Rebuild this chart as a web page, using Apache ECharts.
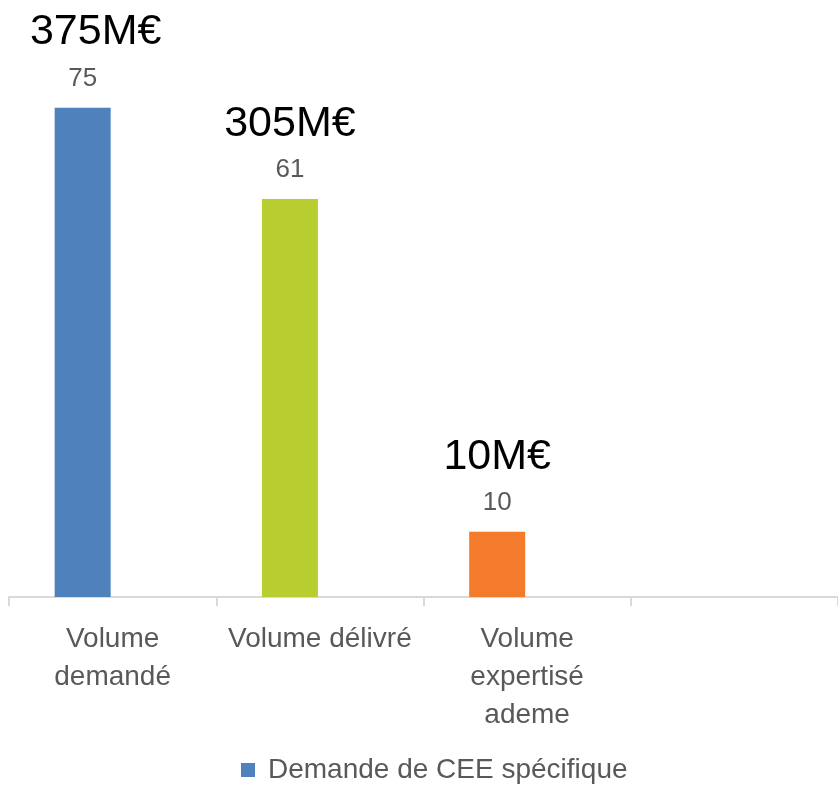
<!DOCTYPE html>
<html><head><meta charset="utf-8">
<script src="https://cdn.jsdelivr.net/npm/echarts@6/dist/echarts.min.js"></script>
<style>html,body{margin:0;padding:0;background:#fff}#c{width:838px;height:791px}</style>
</head><body><div id="c"></div>
<script>
const categories = ['Volume\ndemandé', 'Volume délivré', 'Volume\nexpertisé\nademe', ''];
const values = [75, 61, 10, null];
const amounts = ['375M€', '305M€', '10M€', ''];
const seriesName = 'Demande de CEE spécifique';
const barColors = ['#4F81BD', '#B8CE30', '#F47B2B'];

const FONT = '"Liberation Sans", Arial, sans-serif';
function richFor(shift) {
  return {
    big: {fontSize: 43, color: '#000000', lineHeight: 62, fontFamily: FONT, padding: [0, 0, 0, shift]},
    val: {fontSize: 26, color: '#595959', lineHeight: 30, fontFamily: FONT}
  };
}
const chart = echarts.init(document.getElementById('c'), null, {renderer: 'canvas'});
chart.setOption({
  animation: false,
  textStyle: {fontFamily: FONT},
  grid: {left: 9, right: -4, top: 75, bottom: 194},
  legend: {
    data: [seriesName], bottom: 2, left: 236,
    icon: 'rect', itemWidth: 14, itemHeight: 14, itemGap: 12,
    textStyle: {fontSize: 28, color: '#595959', fontFamily: FONT, padding: [0, 0, 0, 8]}
  },
  xAxis: {
    type: 'category', data: categories,
    axisLine: {lineStyle: {color: '#D9D9D9', width: 2}},
    axisTick: {show: true, length: 9, alignWithLabel: false, lineStyle: {color: '#D9D9D9', width: 2}},
    axisLabel: {fontSize: 28, color: '#595959', lineHeight: 38, margin: 23, interval: 0, fontFamily: FONT}
  },
  yAxis: {type: 'value', min: 0, max: 80, show: false, splitLine: {show: false}},
  series: [{
    name: seriesName, type: 'bar', barWidth: 56, barGap: '7%',
    data: values.map((v, i) => v == null ? null : {
      value: v, itemStyle: {color: barColors[i]},
      label: {rich: richFor(i === 0 ? 26 : 0)}
    }),
    itemStyle: {color: barColors[0]},
    label: {
      show: true, position: 'top', distance: 14,
      formatter: p => '{big|' + amounts[p.dataIndex] + '}\n{val|' + p.value + '}',
      rich: richFor(0)
    }
  }, {
    name: 'spacer', type: 'bar', barWidth: 56, data: [null, null, null, null]
  }]
});
</script></body></html>
